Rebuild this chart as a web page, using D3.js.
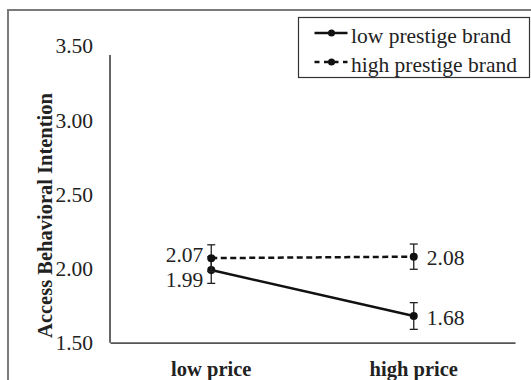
<!DOCTYPE html>
<html>
<head>
<meta charset="utf-8">
<script src="https://cdn.jsdelivr.net/npm/d3@7"></script>
<style>
  body { margin: 0; background: #fff; }
  svg text { font-family: "Liberation Serif", "Times New Roman", serif; fill: #222; }
</style>
</head>
<body>
<div id="chart"></div>
<script>
// Data
var categories = ["low price", "high price"];
var seriesNames = ["low prestige brand", "high prestige brand"];
var lowPrestige = [1.99, 1.68];
var highPrestige = [2.07, 2.08];
var lowPrestigeErr = [0.09, 0.09];
var highPrestigeErr = [0.09, 0.085];
var yTicks = [1.5, 2.0, 2.5, 3.0, 3.5];

var svgWidth = 531;
var svgHeight = 380;

var margin = { top: 46, left: 110 };
var width = 405;
var height = 296.7;

var svg = d3.select("#chart")
  .append("svg")
  .attr("width", svgWidth)
  .attr("height", svgHeight);

// outer frame
svg.append("rect")
  .attr("x", 8)
  .attr("y", 10)
  .attr("width", 540)
  .attr("height", 400)
  .attr("fill", "none")
  .attr("stroke", "#7a7a7a")
  .attr("stroke-width", 2);

var chartGroup = svg.append("g")
  .attr("transform", `translate(${margin.left}, ${margin.top})`);

var xScale = d3.scaleBand()
  .domain(categories)
  .range([0, width]);

var yScale = d3.scaleLinear()
  .domain([1.5, 3.5])
  .range([height, 0]);

// y axis
var leftAxis = d3.axisLeft(yScale)
  .tickValues(yTicks)
  .tickSize(0)
  .tickPadding(17)
  .tickFormat(d3.format(".2f"));

var yAxis = chartGroup.append("g").call(leftAxis);
yAxis.select(".domain").remove();
yAxis.selectAll("text")
  .style("font-size", "21.5px")
  .style("font-family", "'Liberation Serif', serif")
  .attr("fill", "#222");

// vertical axis line stops a little under the top tick, as in the source
chartGroup.append("line")
  .attr("x1", 0).attr("x2", 0)
  .attr("y1", yScale(1.5))
  .attr("y2", yScale(3.5) + 9)
  .attr("stroke", "#333")
  .attr("stroke-width", 1.5);

// x axis
var bottomAxis = d3.axisBottom(xScale)
  .tickSize(0)
  .tickPadding(19);

var xAxis = chartGroup.append("g")
  .attr("transform", `translate(0, ${height})`)
  .call(bottomAxis);
xAxis.select(".domain").attr("stroke", "#555").attr("stroke-width", 1.8);
xAxis.selectAll("text")
  .style("font-size", "20.5px")
  .style("font-weight", "bold")
  .style("font-family", "'Liberation Serif', serif")
  .attr("fill", "#111");

// y axis title
svg.append("text")
  .attr("transform", "translate(52, 215.5) rotate(-90)")
  .attr("text-anchor", "middle")
  .style("font-size", "20.5px")
  .style("font-weight", "bold")
  .attr("fill", "#111")
  .text("Access Behavioral Intention");

var cx = d => xScale(d) + xScale.bandwidth() / 2;

var series = [
  { name: seriesNames[0], values: lowPrestige, err: lowPrestigeErr, dash: null },
  { name: seriesNames[1], values: highPrestige, err: highPrestigeErr, dash: "6,3.5" }
];

var line = d3.line()
  .x((d, i) => cx(categories[i]))
  .y(d => yScale(d));

series.forEach(function(s) {
  chartGroup.append("path")
    .datum(s.values)
    .attr("d", line)
    .attr("fill", "none")
    .attr("stroke", "#111")
    .attr("stroke-width", 2.5)
    .attr("stroke-dasharray", s.dash);

  // error bars
  s.values.forEach(function(v, i) {
    var x = cx(categories[i]);
    var y1 = yScale(v + s.err[i]);
    var y2 = yScale(v - s.err[i]);
    chartGroup.append("line")
      .attr("x1", x).attr("x2", x).attr("y1", y1).attr("y2", y2)
      .attr("stroke", "#222").attr("stroke-width", 1.3);
    [y1, y2].forEach(function(y) {
      chartGroup.append("line")
        .attr("x1", x - 4).attr("x2", x + 4).attr("y1", y).attr("y2", y)
        .attr("stroke", "#222").attr("stroke-width", 1.3);
    });
  });

  chartGroup.selectAll(null)
    .data(s.values)
    .enter()
    .append("circle")
    .attr("cx", (d, i) => cx(categories[i]))
    .attr("cy", d => yScale(d))
    .attr("r", 4)
    .attr("fill", "#111");
});

// value labels
var labelStyle = function(sel) {
  sel.style("font-size", "21.5px").attr("fill", "#222");
};
chartGroup.append("text")
  .attr("x", cx(categories[0]) - 8)
  .attr("y", yScale(highPrestige[0]) + 4)
  .attr("text-anchor", "end")
  .call(labelStyle)
  .text(highPrestige[0].toFixed(2));
chartGroup.append("text")
  .attr("x", cx(categories[0]) - 8)
  .attr("y", yScale(lowPrestige[0]) + 17)
  .attr("text-anchor", "end")
  .call(labelStyle)
  .text(lowPrestige[0].toFixed(2));
chartGroup.append("text")
  .attr("x", cx(categories[1]) + 13)
  .attr("y", yScale(highPrestige[1]) + 8)
  .attr("text-anchor", "start")
  .call(labelStyle)
  .text(highPrestige[1].toFixed(2));
chartGroup.append("text")
  .attr("x", cx(categories[1]) + 13)
  .attr("y", yScale(lowPrestige[1]) + 9)
  .attr("text-anchor", "start")
  .call(labelStyle)
  .text(lowPrestige[1].toFixed(2));

// legend
var legend = svg.append("g").attr("transform", "translate(298.5, 17.5)");
legend.append("rect")
  .attr("width", 231)
  .attr("height", 60)
  .attr("fill", "#fff")
  .attr("stroke", "#333")
  .attr("stroke-width", 1.2);

series.forEach(function(s, i) {
  var y = 15.5 + i * 29;
  legend.append("line")
    .attr("x1", 16).attr("x2", 49).attr("y1", y).attr("y2", y)
    .attr("stroke", "#111").attr("stroke-width", 2.3)
    .attr("stroke-dasharray", s.dash ? "5,4.5" : null);
  legend.append("circle")
    .attr("cx", 33).attr("cy", y).attr("r", 3.5).attr("fill", "#111");
  legend.append("text")
    .attr("x", 52.5)
    .attr("y", y + 9.5)
    .style("font-size", "21.5px")
    .attr("fill", "#222")
    .text(s.name);
});
</script>
</body>
</html>
